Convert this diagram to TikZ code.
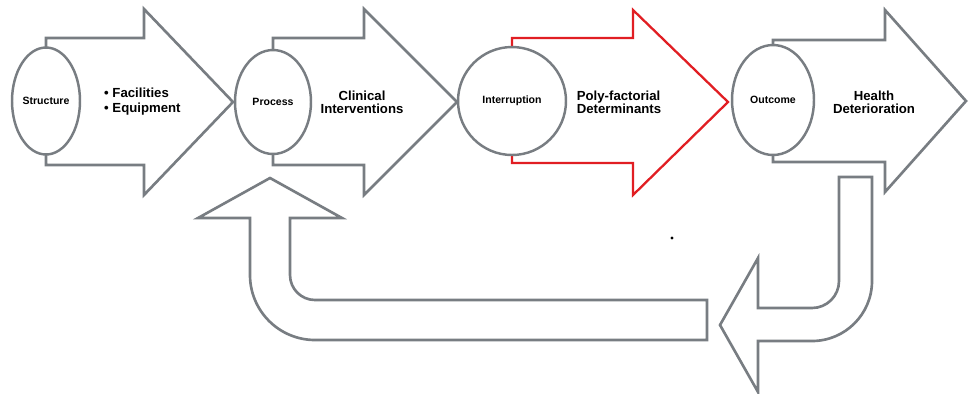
\documentclass[tikz,border=0pt]{standalone}
\usepackage{fontspec}
\setmainfont{Liberation Sans}
\usepackage{xcolor}
\definecolor{lgray}{RGB}{120,125,130}
\definecolor{dred}{RGB}{225,30,35}
\usepackage{tikz}
\usetikzlibrary{shapes.geometric}

\begin{document}
\begin{tikzpicture}[
  x=0.02cm, y=-0.02cm,
  stage/.style={ellipse,draw=lgray,line width=1.4pt,fill=white,inner sep=0pt,font=\fontsize{6}{7}\selectfont\bfseries},
  note/.style={align=center,font=\fontsize{7.5}{7.6}\selectfont\bfseries},
  barrow/.style={draw=lgray,line width=1.5pt,fill=white,line join=miter},
  rarrow/.style={barrow,draw=dred,line width=1.3pt}
]
  \useasboundingbox (0,0) rectangle (969,393);

  % Big block arrows (left to right)
  \draw[barrow] (46,38) -- (144,38) -- (144,9) -- (233,102) -- (144,195) -- (144,165) -- (46,165) -- cycle;
  \draw[barrow] (273,38) -- (364,38) -- (364,9) -- (457,102) -- (364,195) -- (364,165) -- (273,165) -- cycle;
  \draw[rarrow] (512,38) -- (633,38) -- (633,10) -- (728,102) -- (633,195) -- (633,163) -- (512,163) -- cycle;
  \draw[barrow] (773,40) -- (885,40) -- (885,10) -- (966,101) -- (885,192) -- (885,162) -- (773,162) -- cycle;

  % Stages
  \node[stage,minimum width=1.36cm,minimum height=2.14cm] (structure) at (46,101) {Structure};
  \node[stage,minimum width=1.52cm,minimum height=2.08cm] (process) at (273,102) {Process};
  \node[stage,circle,minimum size=2.16cm] (interruption) at (512,101) {Interruption};
  \node[stage,minimum width=1.64cm,minimum height=2.2cm] (outcome) at (773,100) {Outcome};

  % Labels inside the arrows
  \node[note,align=left,anchor=west,font=\fontsize{7.5}{8.6}\selectfont\bfseries] (facil) at (98,102) {• Facilities\\• Equipment};
  \node[note] (clinic) at (362,102) {Clinical\\Interventions};
  \node[note,align=left] (polyf) at (619,102) {Poly-factorial\\Determinants};
  \node[note] (health) at (874,102) {Health\\Deterioration};

  % Feedback arrows
  \draw[barrow] (839,177) -- (872,177) -- (872,281) arc[start angle=0,end angle=90,radius=60]
    -- (758,341) -- (758,392) -- (720,325) -- (758,258) -- (758,308) -- (812,308)
    arc[start angle=90,end angle=0,radius=27] -- cycle;
  \draw[barrow] (270,178) -- (342,218) -- (290,218) -- (290,275) arc[start angle=180,end angle=90,radius=25]
    -- (707,300) -- (707,340) -- (315,340) arc[start angle=90,end angle=180,radius=65]
    -- (250,218) -- (198,218) -- cycle;

  \fill (672,238) circle[radius=1.6];
\end{tikzpicture}
\end{document}
